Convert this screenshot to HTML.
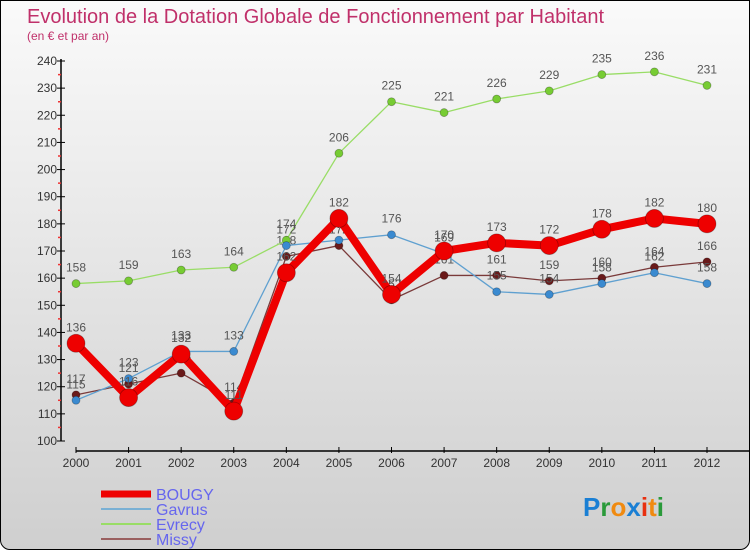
<!DOCTYPE html>
<html><head><meta charset="utf-8"><style>
body{margin:0}
#c{width:750px;height:550px;position:relative;overflow:hidden;background:linear-gradient(#fafafa,#cfcfcf);border:1px solid #000;box-sizing:border-box;border-radius:0 0 10px 10px;font-family:"Liberation Sans",sans-serif}
</style></head><body>
<div id="c">
<svg id="s" width="750" height="550">
<text x="26" y="22" font-size="20" fill="#c0306a">Evolution de la Dotation Globale de Fonctionnement par Habitant</text>
<text x="26" y="39" font-size="12" fill="#c0306a">(en € et par an)</text>
<g id="axes"></g><g id="series"></g><g id="legend"></g>
<text x="582" y="515" font-size="26" font-weight="bold"><tspan fill="#1a7fd4">P</tspan><tspan fill="#2a9a3a">r</tspan><tspan fill="#f08a10">o</tspan><tspan fill="#1a7fd4">x</tspan><tspan fill="#e83010">i</tspan><tspan fill="#f08a10">t</tspan><tspan fill="#2a9a3a">i</tspan></text>
</svg></div>
<script>
const years=[2000,2001,2002,2003,2004,2005,2006,2007,2008,2009,2010,2011,2012];
const yTicks=[100,110,120,130,140,150,160,170,180,190,200,210,220,230,240];
const bougy=[136,116,132,111,162,182,154,170,173,172,178,182,180];
const gavrus=[115,123,133,133,172,174,176,169,155,154,158,162,158];
const evrecy=[158,159,163,164,174,206,225,221,226,229,235,236,231];
const missy=[117,121,125,114,168,172,152,161,161,159,160,164,166];
const NS="http://www.w3.org/2000/svg";
const X=i=>75+i*(706-75)/(years.length-1);
const Y=v=>440-(v-100)*380/140;
function mk(tag,at,par,txt){const e=document.createElementNS(NS,tag);for(const k in at)e.setAttribute(k,at[k]);if(txt!==undefined)e.textContent=txt;par.appendChild(e);return e;}
const ax=document.getElementById('axes');
let e=mk('line',{x1:60,y1:58,x2:60,y2:440,stroke:'#000','stroke-width':1.5},ax);

for(let v=105;v<240;v+=10){e=mk('line',{x1:57,x2:60,y1:Y(v),y2:Y(v),stroke:'#e33','stroke-width':1.5},ax);}
yTicks.forEach(v=>{mk('line',{x1:56,x2:64,y1:Y(v),y2:Y(v),stroke:'#000'},ax);
e=mk('text',{x:56,y:Y(v)+4,'font-size':12,fill:'#333','text-anchor':'end'},ax,v);
});
e=mk('line',{x1:75,y1:450,x2:750,y2:450,stroke:'#000','stroke-width':1.5},ax);

years.forEach((y,i)=>{mk('line',{x1:X(i),x2:X(i),y1:446,y2:452,stroke:'#000'},ax);
e=mk('text',{x:X(i),y:466,'font-size':12,fill:'#333','text-anchor':'middle'},ax,y);
});
const sg=document.getElementById('series');
const defs=[['missy',missy,'#7a3a3a','#6a1a1a',1.3,4],['evrecy',evrecy,'#99dd66','#77cc33',1.3,4],['gavrus',gavrus,'#5fa0d0','#3a8ad0',1.3,4],['bougy',bougy,'#ee0000','#ee0000',8,9]];
defs.forEach(([n,d,lc,pc,w,r])=>{
 e=mk('polyline',{points:d.map((v,i)=>X(i)+','+Y(v)).join(' '),fill:'none',stroke:lc,'stroke-width':w,'stroke-linejoin':'round'},sg);
 
 d.forEach((v,i)=>{e=mk('circle',{cx:X(i),cy:Y(v),r:r,fill:pc,stroke:'rgba(0,0,0,0.3)','stroke-width':0.8},sg);
 
 e=mk('text',{x:X(i),y:Y(v)-12,'font-size':12,fill:'#555','text-anchor':'middle'},sg,v);
 });
});
const lg=document.getElementById('legend');
[['BOUGY','#ee0000',7,493],['Gavrus','#7ab0d4',2,508],['Evrecy','#99dd66',2,523],['Missy','#9a6060',2,538]].forEach(([t,c,w,y])=>{
 e=mk('line',{x1:100,x2:150,y1:y,y2:y,stroke:c,'stroke-width':w},lg);
 
 e=mk('text',{x:155,y:y+6,'font-size':16,fill:'#6666ee'},lg,t);
 
});
</script></body></html>
